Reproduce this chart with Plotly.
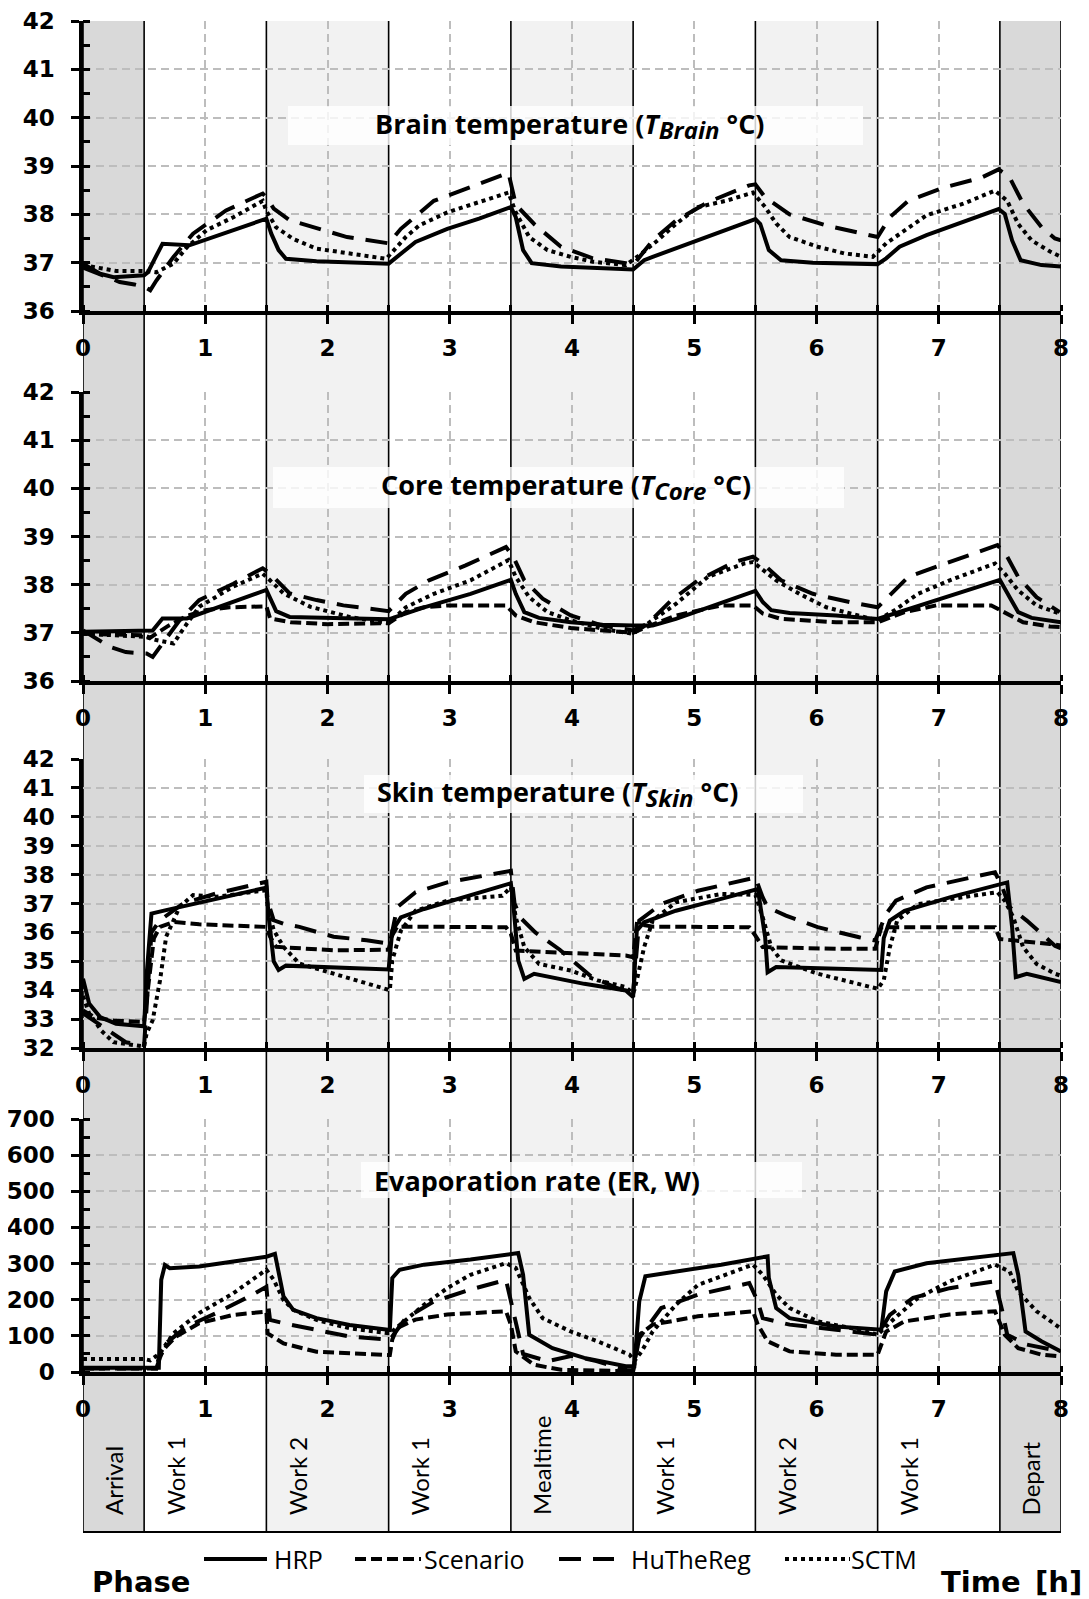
import plotly.graph_objects as go

# ---------------- data (time in hours) ----------------
series_names = ["HRP", "Scenario", "HuTheReg", "SCTM"]

phase_names = ["Arrival", "Work 1", "Work 2", "Work 1", "Mealtime", "Work 1", "Work 2", "Work 1", "Depart"]
phase_start = [0, 0.5, 1.5, 2.5, 3.5, 4.5, 5.5, 6.5, 7.5]
phase_end = [0.5, 1.5, 2.5, 3.5, 4.5, 5.5, 6.5, 7.5, 8]
phase_shade = ["dark", "none", "light", "none", "light", "none", "light", "none", "dark"]

x_ticks = [0, 1, 2, 3, 4, 5, 6, 7, 8]

brain_hrp = [(0, 36.98), (0.14, 36.77), (0.25, 36.70), (0.5, 36.74), (0.53, 36.8), (0.65, 37.39), (0.87, 37.36),
             (1.5, 37.91), (1.54, 37.6), (1.6, 37.26), (1.66, 37.08), (1.91, 37.03), (2.5, 36.98), (2.57, 37.12),
             (2.72, 37.43), (2.98, 37.7), (3.24, 37.91), (3.5, 38.15), (3.54, 37.94), (3.6, 37.26), (3.67, 36.99),
             (3.91, 36.92), (4.21, 36.88), (4.5, 36.86), (4.59, 37.05), (4.66, 37.12), (5.5, 37.9), (5.54, 37.8),
             (5.61, 37.26), (5.71, 37.05), (5.97, 37.0), (6.5, 36.97), (6.57, 37.09), (6.68, 37.33), (6.9, 37.57),
             (7.49, 38.11), (7.54, 38.01), (7.6, 37.46), (7.67, 37.05), (7.84, 36.95), (8.0, 36.92)]
brain_hut = [(0, 36.9), (0.15, 36.75), (0.3, 36.6), (0.42, 36.55), (0.5, 36.5), (0.55, 36.43), (0.6, 36.63),
             (0.74, 37.12), (0.9, 37.6), (1.17, 38.08), (1.47, 38.43), (1.5, 38.35), (1.56, 38.12), (1.69, 37.88),
             (2.16, 37.53), (2.5, 37.4), (2.6, 37.7), (2.87, 38.28), (3.17, 38.56), (3.48, 38.86), (3.54, 38.2),
             (3.69, 37.8), (3.91, 37.33), (4.17, 37.09), (4.44, 36.99), (4.5, 36.95), (4.66, 37.46), (4.85, 37.87),
             (5.11, 38.25), (5.45, 38.6), (5.5, 38.62), (5.58, 38.35), (5.78, 38.0), (6.08, 37.77), (6.38, 37.6),
             (6.5, 37.53), (6.6, 37.94), (6.75, 38.28), (7.05, 38.56), (7.35, 38.76), (7.49, 38.93), (7.58, 38.76),
             (7.69, 38.22), (7.84, 37.74), (7.95, 37.5), (8.0, 37.46)]
brain_sctm = [(0, 36.95), (0.27, 36.83), (0.5, 36.83), (0.6, 36.8), (0.74, 36.98), (0.85, 37.32), (1.01, 37.67),
              (1.23, 37.94), (1.47, 38.28), (1.5, 38.07), (1.58, 37.73), (1.72, 37.49), (1.91, 37.29), (2.18, 37.19),
              (2.48, 37.08), (2.64, 37.53), (2.75, 37.77), (2.98, 38.04), (3.24, 38.25), (3.48, 38.45), (3.54, 38.04),
              (3.65, 37.53), (3.8, 37.26), (3.99, 37.12), (4.17, 37.02), (4.44, 36.95), (4.57, 37.19), (4.7, 37.46),
              (4.85, 37.8), (5.03, 38.15), (5.26, 38.28), (5.48, 38.45), (5.58, 38.15), (5.67, 37.81), (5.78, 37.53),
              (6.01, 37.33), (6.23, 37.19), (6.46, 37.12), (6.57, 37.4), (6.72, 37.67), (6.9, 37.98), (7.2, 38.22),
              (7.46, 38.49), (7.56, 38.28), (7.65, 37.8), (7.76, 37.46), (7.91, 37.23), (8.0, 37.12)]

core_hrp = [(0, 37.02), (0.57, 37.05), (0.65, 37.3), (0.85, 37.3), (1.5, 37.89), (1.58, 37.45), (1.69, 37.33),
            (2.05, 37.3), (2.5, 37.28), (2.79, 37.53), (3.17, 37.81), (3.5, 38.1), (3.54, 37.81), (3.61, 37.43),
            (3.73, 37.31), (3.99, 37.22), (4.25, 37.17), (4.5, 37.15), (4.66, 37.15), (4.85, 37.29), (5.11, 37.53),
            (5.5, 37.87), (5.56, 37.64), (5.63, 37.47), (5.78, 37.41), (6.16, 37.36), (6.5, 37.29), (6.72, 37.47),
            (7.09, 37.78), (7.5, 38.1), (7.58, 37.74), (7.65, 37.43), (7.76, 37.31), (8.0, 37.22)]
core_scen = [(0, 36.98), (0.5, 36.95), (0.55, 36.9), (0.7, 37.15), (0.85, 37.35), (1.0, 37.47), (1.2, 37.53),
             (1.5, 37.55), (1.53, 37.3), (1.7, 37.22), (2.0, 37.18), (2.5, 37.2), (2.64, 37.43), (2.79, 37.53),
             (2.98, 37.57), (3.46, 37.57), (3.54, 37.36), (3.69, 37.22), (3.99, 37.1), (4.44, 37.01), (4.5, 37.0),
             (4.59, 37.1), (4.85, 37.36), (5.22, 37.57), (5.48, 37.57), (5.56, 37.4), (5.71, 37.29), (6.16, 37.22),
             (6.5, 37.22), (6.72, 37.43), (6.98, 37.57), (7.43, 37.57), (7.54, 37.43), (7.69, 37.22), (7.91, 37.13),
             (8.0, 37.12)]
core_hut = [(0, 37.05), (0.22, 36.71), (0.35, 36.6), (0.52, 36.57), (0.57, 36.5), (0.65, 36.78), (0.79, 37.26),
            (0.95, 37.68), (1.23, 38.02), (1.47, 38.34), (1.53, 38.23), (1.69, 37.82), (1.91, 37.68), (2.13, 37.57),
            (2.5, 37.45), (2.64, 37.81), (2.83, 38.09), (3.13, 38.4), (3.46, 38.78), (3.52, 38.58), (3.61, 38.09),
            (3.76, 37.71), (3.99, 37.36), (4.25, 37.15), (4.5, 37.05), (4.62, 37.19), (4.81, 37.67), (5.03, 38.09),
            (5.33, 38.47), (5.48, 38.58), (5.56, 38.44), (5.71, 38.09), (5.97, 37.81), (6.27, 37.64), (6.5, 37.53),
            (6.6, 37.78), (6.75, 38.16), (7.01, 38.4), (7.28, 38.65), (7.48, 38.82), (7.56, 38.58), (7.65, 38.16),
            (7.8, 37.74), (7.99, 37.43)]
core_sctm = [(0, 36.98), (0.5, 36.92), (0.6, 36.85), (0.74, 36.78), (0.85, 37.19), (0.95, 37.54), (1.23, 37.96),
             (1.47, 38.23), (1.53, 38.09), (1.64, 37.82), (1.86, 37.54), (2.18, 37.33), (2.5, 37.2), (2.64, 37.53),
             (2.87, 37.81), (3.17, 38.09), (3.48, 38.51), (3.54, 38.16), (3.65, 37.74), (3.8, 37.43), (3.99, 37.26),
             (4.25, 37.08), (4.5, 36.98), (4.66, 37.26), (4.85, 37.6), (5.11, 38.16), (5.41, 38.44), (5.48, 38.47),
             (5.56, 38.3), (5.67, 38.09), (5.86, 37.81), (6.08, 37.53), (6.34, 37.36), (6.5, 37.26), (6.64, 37.47),
             (6.83, 37.81), (7.09, 38.09), (7.46, 38.44), (7.54, 38.23), (7.65, 37.88), (7.8, 37.57), (7.99, 37.4)]

skin_hrp = [(0, 34.4), (0.05, 33.54), (0.14, 33.07), (0.27, 32.84), (0.5, 32.75), (0.52, 34.5), (0.56, 36.65),
            (0.68, 36.77), (1.5, 37.55), (1.52, 36.5), (1.56, 35.0), (1.6, 34.7), (1.66, 34.85), (2.0, 34.8),
            (2.5, 34.72), (2.53, 36.06), (2.6, 36.52), (2.79, 36.81), (3.17, 37.27), (3.5, 37.7), (3.52, 36.98),
            (3.56, 35.03), (3.61, 34.39), (3.69, 34.57), (4.1, 34.22), (4.44, 33.99), (4.5, 33.76), (4.53, 36.06),
            (4.59, 36.35), (4.85, 36.75), (5.22, 37.16), (5.52, 37.5), (5.58, 35.83), (5.6, 34.62), (5.67, 34.8),
            (6.16, 34.74), (6.53, 34.7), (6.55, 35.8), (6.6, 36.41), (6.72, 36.75), (7.09, 37.21), (7.56, 37.73),
            (7.6, 36.18), (7.63, 34.45), (7.72, 34.57), (8.0, 34.28)]
skin_scen = [(0, 33.3), (0.1, 33.05), (0.25, 32.95), (0.5, 32.9), (0.53, 34.0), (0.58, 35.8), (0.63, 36.19),
             (0.74, 36.36), (0.95, 36.28), (1.5, 36.19), (1.53, 35.85), (1.58, 35.5), (2.05, 35.38), (2.5, 35.4),
             (2.53, 35.9), (2.57, 36.2), (3.46, 36.18), (3.5, 35.95), (3.54, 35.37), (3.91, 35.31), (4.44, 35.2),
             (4.5, 35.14), (4.53, 36.29), (4.66, 36.2), (5.45, 36.18), (5.5, 35.89), (5.56, 35.49), (6.16, 35.43),
             (6.48, 35.43), (6.53, 36.18), (7.46, 36.18), (7.5, 35.77), (7.65, 35.72), (7.91, 35.6), (8.0, 35.55)]
skin_hut = [(0, 33.2), (0.07, 33.0), (0.2, 32.6), (0.35, 32.2), (0.5, 32.1), (0.53, 34.0), (0.56, 36.0),
            (0.63, 36.42), (0.82, 37.0), (1.09, 37.35), (1.5, 37.75), (1.51, 37.1), (1.56, 36.42), (1.64, 36.3),
            (1.77, 36.19), (2.05, 35.85), (2.32, 35.73), (2.51, 35.61), (2.54, 36.3), (2.57, 36.87), (2.72, 37.39),
            (2.98, 37.73), (3.5, 38.13), (3.53, 37.0), (3.58, 36.5), (3.7, 36.0), (3.9, 35.4), (4.15, 34.5),
            (4.35, 34.1), (4.5, 33.9), (4.55, 36.41), (4.73, 36.98), (5.03, 37.44), (5.45, 37.85), (5.5, 37.9),
            (5.56, 37.21), (5.6, 36.87), (5.75, 36.58), (6.01, 36.18), (6.35, 35.83), (6.48, 35.72), (6.57, 36.64),
            (6.65, 37.1), (6.9, 37.56), (7.46, 38.08), (7.52, 37.56), (7.58, 36.87), (7.72, 36.41), (7.95, 35.54),
            (8.0, 35.45)]
skin_sctm = [(0, 33.8), (0.05, 33.2), (0.15, 32.6), (0.25, 32.2), (0.5, 32.05), (0.52, 32.5), (0.57, 32.96),
             (0.63, 34.34), (0.68, 35.85), (0.79, 36.88), (0.9, 37.29), (1.09, 37.23), (1.5, 37.46), (1.51, 36.88),
             (1.56, 36.08), (1.64, 35.5), (1.77, 34.92), (2.05, 34.57), (2.46, 34.06), (2.51, 34.0), (2.53, 35.03),
             (2.6, 36.06), (2.72, 36.75), (2.98, 37.1), (3.43, 37.27), (3.5, 37.56), (3.54, 36.52), (3.61, 35.49),
             (3.73, 34.91), (3.99, 34.68), (4.21, 34.34), (4.44, 34.11), (4.5, 33.88), (4.53, 34.34), (4.59, 35.49),
             (4.66, 36.41), (4.85, 37.04), (5.22, 37.33), (5.5, 37.3), (5.56, 36.52), (5.63, 35.49), (5.71, 35.03),
             (6.01, 34.57), (6.35, 34.22), (6.5, 34.05), (6.55, 34.34), (6.6, 35.49), (6.66, 36.41), (6.83, 36.98),
             (7.28, 37.27), (7.48, 37.39), (7.54, 37.1), (7.61, 36.52), (7.69, 35.49), (7.8, 34.91), (7.95, 34.57),
             (8.0, 34.5)]

er_hrp = [(0, 12), (0.62, 12), (0.64, 255), (0.67, 296), (0.71, 287), (0.95, 292), (1.23, 306), (1.5, 319),
          (1.57, 327), (1.6, 273), (1.64, 209), (1.72, 172), (1.91, 149), (2.18, 130), (2.51, 116), (2.53, 260),
          (2.59, 283), (2.79, 297), (3.17, 311), (3.56, 329), (3.6, 269), (3.65, 103), (3.84, 66), (4.1, 39),
          (4.44, 16), (4.51, 16), (4.55, 195), (4.6, 265), (4.85, 278), (5.22, 297), (5.6, 320), (5.61, 260),
          (5.67, 177), (5.78, 149), (6.16, 126), (6.53, 117), (6.57, 223), (6.64, 278), (6.9, 301), (7.28, 315),
          (7.61, 329), (7.65, 269), (7.71, 112), (7.84, 85), (8.0, 57)]
er_scen = [(0, 10), (0.6, 10), (0.62, 40), (0.68, 70), (0.76, 98), (0.95, 135), (1.23, 158), (1.5, 167),
           (1.51, 107), (1.64, 79), (1.91, 56), (2.51, 47), (2.53, 90), (2.57, 122), (2.72, 145), (2.98, 159),
           (3.46, 168), (3.5, 131), (3.54, 57), (3.69, 20), (3.91, 6), (4.44, 2), (4.5, 2), (4.55, 103),
           (4.66, 131), (5.03, 154), (5.48, 168), (5.52, 131), (5.6, 85), (5.78, 57), (6.16, 48), (6.5, 48),
           (6.57, 112), (6.72, 140), (7.09, 159), (7.46, 168), (7.54, 103), (7.65, 66), (7.84, 48), (8.0, 43)]
er_hut = [(0, 10), (0.6, 10), (0.63, 40), (0.68, 80), (0.85, 126), (1.09, 163), (1.36, 209), (1.5, 236),
          (1.51, 199), (1.53, 144), (1.64, 135), (1.91, 116), (2.18, 98), (2.51, 89), (2.64, 149), (2.87, 195),
          (3.17, 228), (3.46, 255), (3.5, 195), (3.55, 120), (3.6, 50), (3.8, 30), (4.0, 45), (4.2, 30),
          (4.45, 5), (4.5, 5), (4.55, 94), (4.73, 177), (5.03, 214), (5.45, 246), (5.52, 195), (5.56, 149),
          (5.78, 131), (6.16, 117), (6.5, 103), (6.6, 158), (6.79, 205), (7.09, 232), (7.46, 251), (7.52, 168),
          (7.56, 103), (7.72, 76), (7.99, 57)]
er_sctm = [(0, 36), (0.5, 36), (0.55, 32), (0.63, 52), (0.74, 107), (0.95, 163), (1.23, 218), (1.5, 283),
           (1.56, 255), (1.64, 199), (1.72, 172), (1.91, 144), (2.18, 121), (2.51, 107), (2.79, 186), (2.98, 232),
           (3.17, 269), (3.46, 301), (3.54, 288), (3.65, 205), (3.76, 149), (3.99, 112), (4.21, 85), (4.47, 48),
           (4.51, 30), (4.57, 57), (4.66, 112), (4.85, 186), (5.03, 241), (5.33, 278), (5.48, 297), (5.56, 269),
           (5.67, 214), (5.78, 177), (6.01, 140), (6.35, 117), (6.5, 103), (6.64, 149), (6.83, 205), (7.09, 251),
           (7.46, 297), (7.58, 278), (7.65, 223), (7.8, 168), (7.95, 131), (8.0, 120)]

SUB = "<i><span style='font-size:24px;baseline-shift:-5px'>{}</span></i>"
panel_titles = [
    "Brain temperature (<i>T</i>" + SUB.format("Brain") + " °C)",
    "Core temperature (<i>T</i>" + SUB.format("Core") + " °C)",
    "Skin temperature (<i>T</i>" + SUB.format("Skin") + " °C)",
    "Evaporation rate (ER, W)",
]
panel_data = [
    {"HRP": brain_hrp, "HuTheReg": brain_hut, "SCTM": brain_sctm},
    {"HRP": core_hrp, "Scenario": core_scen, "HuTheReg": core_hut, "SCTM": core_sctm},
    {"HRP": skin_hrp, "Scenario": skin_scen, "HuTheReg": skin_hut, "SCTM": skin_sctm},
    {"HRP": er_hrp, "Scenario": er_scen, "HuTheReg": er_hut, "SCTM": er_sctm},
]
y_ranges = [[36, 42], [36, 42], [32, 42], [0, 700]]
y_dticks = [1, 1, 1, 100]
y_minor = [0.5, 0.5, None, 50]

# ---------------- layout / style ----------------
# the page body has an 8px margin, so the figure is made 8px smaller and all
# page-pixel positions are shifted by that offset
OFF = 8
W, H = 1089 - OFF, 1599 - OFF
def PX(px): return (px - OFF) / W
def PY(py): return 1 - (py - OFF) / H

X_DOM = [PX(83), PX(1061)]
panel_px = [(21, 311), (392, 681), (759, 1048), (1119, 1372)]       # top, bottom page pixel of each plot area
title_box_px = [(288, 863, 106, 145), (273, 844, 467, 508), (364, 803, 775, 813), (361, 802, 1162, 1198)]
title_center_px = [(570, 126), (566, 487), (558, 794), (537, 1180)]

line_styles = {
    "HRP": "solid",
    "Scenario": "11px,5px",
    "HuTheReg": "22px,12px",
    "SCTM": "4px,4px",
}
LW = 4
TICK_FONT = dict(family="DejaVu Sans", size=23, color="black", weight="bold")
GRID = dict(showgrid=True, gridcolor="#bdbdbd", gridwidth=2, griddash="8px,5px")

fig = go.Figure()

for k, pdata in enumerate(panel_data):
    sfx = "" if k == 0 else str(k + 1)
    for name in series_names:
        if name not in pdata:
            continue
        pts = pdata[name]
        fig.add_trace(go.Scatter(
            x=[p[0] for p in pts], y=[p[1] for p in pts],
            mode="lines", name=name, showlegend=False,
            line=dict(color="black", width=LW, dash=line_styles[name]),
            xaxis="x" + sfx, yaxis="y" + sfx, hoverinfo="skip",
        ))

layout = dict(
    width=W, height=H, margin=dict(l=0, r=0, t=0, b=0, autoexpand=False),
    paper_bgcolor="white", plot_bgcolor="rgba(0,0,0,0)",
    showlegend=False,
)

for k in range(4):
    sfx = "" if k == 0 else str(k + 1)
    top, bot = panel_px[k]
    ydom = [PY(bot), PY(top)]
    xa = dict(
        domain=X_DOM, range=[0, 8], anchor="y" + sfx, tickvals=x_ticks, ticktext=[str(v) for v in x_ticks],
        showline=True, linecolor="black", linewidth=3.5, mirror=False, zeroline=False, automargin=False,
        ticks="outside", ticklen=9, tickwidth=3, tickcolor="black", tickfont=TICK_FONT,
        ticklabelstandoff=5,
        minor=dict(tick0=0, dtick=0.5, ticks="inside", ticklen=6, tickwidth=3, tickcolor="black", showgrid=False),
        **GRID,
    )
    ya = dict(
        domain=ydom, range=y_ranges[k], anchor="x" + sfx, dtick=y_dticks[k], tick0=0,
        showline=True, linecolor="black", linewidth=3.5, zeroline=False, automargin=False,
        ticks="outside", ticklen=8, tickwidth=3, tickcolor="black", tickfont=TICK_FONT,
        ticklabelstandoff=12,
        **GRID,
    )
    if y_minor[k]:
        ya["minor"] = dict(dtick=y_minor[k], ticks="inside", ticklen=7, tickwidth=3, tickcolor="black", showgrid=False)
    layout["xaxis" + sfx] = xa
    layout["yaxis" + sfx] = ya
    # overlay axes so that major ticks cross the axis line
    ox = str(k + 5)
    layout["xaxis" + ox] = dict(overlaying="x" + sfx, anchor="y" + sfx, range=[0, 8], dtick=1, tick0=0,
                                ticks="inside", ticklen=9, tickwidth=3, tickcolor="black", automargin=False,
                                showticklabels=False, showgrid=False, showline=False, zeroline=False)
    layout["yaxis" + ox] = dict(overlaying="y" + sfx, anchor="x" + sfx, range=y_ranges[k], dtick=y_dticks[k], tick0=0,
                                ticks="inside", ticklen=9, tickwidth=3, tickcolor="black", automargin=False,
                                showticklabels=False, showgrid=False, showline=False, zeroline=False)

fig.update_layout(**layout)

shapes = []
annotations = []
shade_color = {"dark": "#d9d9d9", "light": "#f2f2f2", "none": "rgba(0,0,0,0)"}
PH_TOP, PH_BOT = PY(21), PY(1532)
for s, e, sh in zip(phase_start, phase_end, phase_shade):
    if sh != "none":
        shapes.append(dict(type="rect", xref="x", yref="paper", x0=s, x1=e, y0=PH_BOT, y1=PH_TOP,
                           fillcolor=shade_color[sh], line=dict(width=0), layer="below"))
for b in phase_start + [8]:
    shapes.append(dict(type="line", xref="x", yref="paper", x0=b, x1=b, y0=PH_BOT, y1=PH_TOP,
                       line=dict(color="black", width=1.6), layer="below"))
shapes.append(dict(type="line", xref="x", yref="paper", x0=0, x1=8, y0=PH_BOT, y1=PH_BOT,
                   line=dict(color="black", width=2), layer="below"))

# phase labels
for s, e, nm in zip(phase_start, phase_end, phase_names):
    annotations.append(dict(x=s + 0.25, xref="x", y=PY(1517), yref="paper", text=nm, textangle=-90,
                            showarrow=False, xanchor="center", yanchor="bottom",
                            font=dict(family="Lato", size=24, color="black")))

# panel titles with translucent boxes
for k in range(4):
    x0, x1, y0, y1 = title_box_px[k]
    shapes.append(dict(type="rect", xref="paper", yref="paper", x0=PX(x0), x1=PX(x1), y0=PY(y1), y1=PY(y0),
                       fillcolor="rgba(255,255,255,0.8)", line=dict(width=0), layer="above"))
    cx, cy = title_center_px[k]
    annotations.append(dict(x=PX(cx), y=PY(cy), xref="paper", yref="paper", text=panel_titles[k],
                            showarrow=False, xanchor="center", yanchor="middle",
                            font=dict(family="Open Sans", size=27, color="black", weight=700)))

# legend (drawn manually to match the long line samples)
legend_items = [("HRP", 204, 267, 272), ("Scenario", 355, 421, 422), ("HuTheReg", 559, 614, 629), ("SCTM", 785, 850, 849)]
LEG_Y = 1559
for nm, lx0, lx1, tx in legend_items:
    shapes.append(dict(type="line", xref="paper", yref="paper", x0=PX(lx0), x1=PX(lx1), y0=PY(LEG_Y), y1=PY(LEG_Y),
                       line=dict(color="black", width=LW, dash=line_styles[nm])))
    annotations.append(dict(x=PX(tx), y=PY(LEG_Y), xref="paper", yref="paper", text=nm, showarrow=False,
                            xanchor="left", yanchor="middle", font=dict(family="Open Sans", size=25, color="black")))

annotations.append(dict(x=PX(90), y=PY(1582), xref="paper", yref="paper", text="Phase", showarrow=False,
                        xanchor="left", yanchor="middle", font=dict(family="DejaVu Sans", size=29, color="black", weight="bold")))
annotations.append(dict(x=PX(1084), y=PY(1582), xref="paper", yref="paper", text="Time\u2002[h]", showarrow=False,
                        xanchor="right", yanchor="middle", font=dict(family="DejaVu Sans", size=29, color="black", weight="bold")))

fig.update_layout(shapes=shapes, annotations=annotations)
fig.write_html("out.html")
